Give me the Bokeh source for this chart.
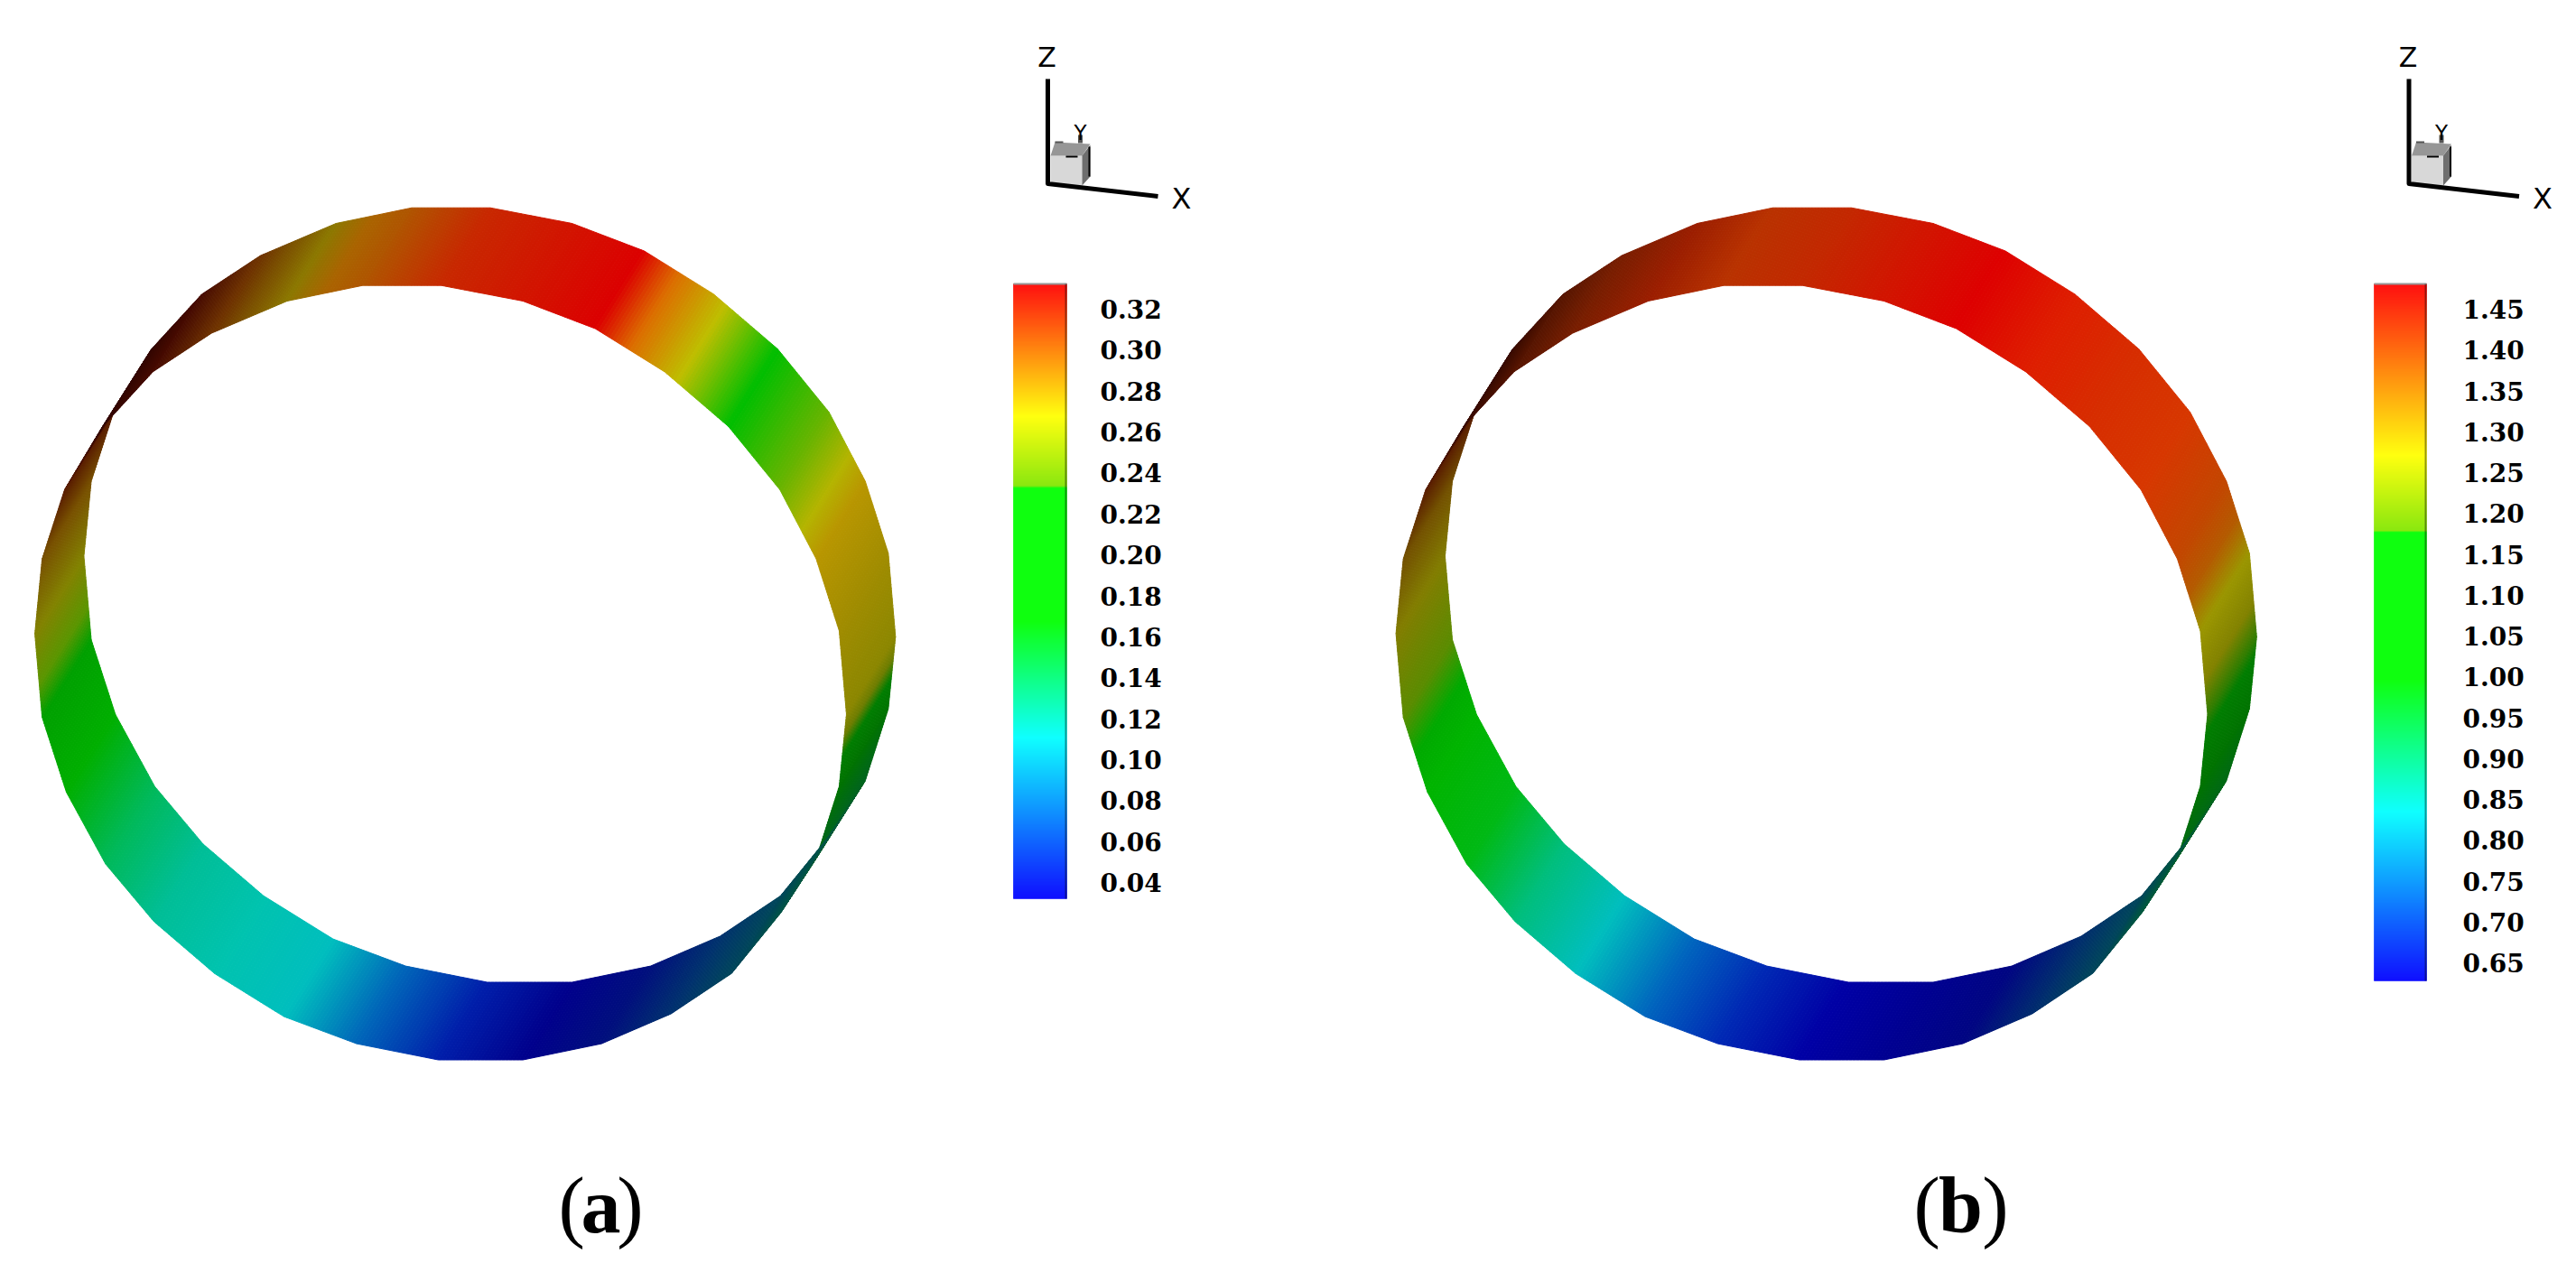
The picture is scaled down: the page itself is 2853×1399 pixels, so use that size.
import numpy as np
from bokeh.embed import file_html
from bokeh.resources import INLINE
from bokeh.plotting import figure
from bokeh.models import Range1d, ColumnDataSource
from bokeh.core.properties import value

# ---- data ----------------------------------------------------------------
# one rim of the projected ribbon (32 facets), clockwise from the top
rim_x = [455.5, 542.5, 633, 713, 790, 860.7, 917.6, 957.8, 983.3, 991.3, 983.3, 957.8, 918.3, 864, 797, 720,
         633, 539.2, 448.8, 368.4, 291.4, 224.4, 170.8, 127.3, 100.5, 92.4, 100.5, 125.3, 167.4, 223, 288, 371.7]
rim_y = [229.7, 229.7, 247, 277.5, 325.4, 386, 456, 532.6, 612.4, 704.8, 784.5, 864.3, 924.9, 991.8, 1036.5, 1069.6,
         1087.5, 1087.5, 1069.6, 1039.6, 991.8, 934.4, 870.6, 790.9, 708, 615.5, 532.6, 456.1, 386, 325.4, 282.6, 247]

# shaded contour colour along the ribbon: station number -> colour
ring_a_station = [0, 1, 2, 3, 3.5, 4.2, 5, 6, 6.6, 7, 8, 9, 9.3, 9.6, 10, 11, 12, 13, 14, 15, 16, 17, 18, 19, 20, 21, 22, 23,
                  24, 24.4, 25, 26, 27, 28, 29, 30, 31, 31.5, 32]
ring_a_colour = ["#af5500", "#c82800", "#d21400", "#dc0000", "#dc6e00", "#bebe00", "#00be00", "#69b400", "#b4b400", "#b99600",
                 "#a08c00", "#8c8700", "#6e7d00", "#007d00", "#007300", "#00641e", "#005546", "#00465a", "#00326e", "#000f7d",
                 "#00008c", "#001eaa", "#0064b9", "#00bebe", "#00c3af", "#00be96", "#00b95a", "#00af00",
                 "#00a000", "#5a9600", "#828200", "#785000", "#5a1e00", "#320500", "#460a00", "#6e3200", "#8c7800", "#aa6400", "#af5500"]

ring_b_station = [0, 1, 2, 3, 4, 5, 6, 7, 7.5, 8, 8.6, 9, 9.3, 10, 11, 12, 13, 14, 15, 16, 17, 18, 19, 20, 21, 22, 23, 23.5, 24, 25, 26, 27, 28,
                  29, 30, 31, 32]
ring_b_colour = ["#b93200", "#c32800", "#d21400", "#de0000", "#de1e00", "#d72d00", "#d73700", "#c34600", "#b45a00", "#9b9600",
                 "#828200", "#327d00", "#007d00", "#007300", "#006914", "#005a3c", "#00465a", "#002d6e", "#000582", "#000091",
                 "#0000a5", "#0028b4", "#0064be", "#00bebe", "#00be7d", "#00b914", "#00b400", "#00aa00", "#5a8c00", "#827d00",
                 "#735000", "#5a1e00", "#370a00", "#551400", "#781e00", "#9b1e00", "#b93200"]

# colour legends
ticks_a = ["0.32", "0.30", "0.28", "0.26", "0.24", "0.22", "0.20", "0.18", "0.16", "0.14", "0.12", "0.10", "0.08", "0.06", "0.04"]
ticks_b = ["1.45", "1.40", "1.35", "1.30", "1.25", "1.20", "1.15", "1.10", "1.05", "1.00", "0.95", "0.90", "0.85", "0.80", "0.75", "0.70", "0.65"]
scale_a_value = [0.331, 0.267, 0.2335, 0.2325, 0.168, 0.112, 0.0346]
scale_b_value = [1.480, 1.270, 1.178, 1.176, 0.996, 0.834, 0.628]
scale_colour = ["#ff0000", "#ffff00", "#82e600", "#00ff00", "#00ff00", "#00ffff", "#0000ff"]

captions = ["a", "b"]

# ---- drawing -------------------------------------------------------------
CANVAS_W, CANVAS_H = 2837, 1391
p = figure(width=CANVAS_W, height=CANVAS_H, x_range=Range1d(0, CANVAS_W), y_range=Range1d(CANVAS_H, 0),
           toolbar_location=None, output_backend="svg", min_border=0, outline_line_color=None,
           background_fill_color="white", border_fill_color="white")
p.axis.visible = False
p.grid.visible = False

RIBBON = (-54.3, 86.0)
RING_B_SHIFT = 1507.5
TRIAD_B_SHIFT = 1507.5


def rgb(h):
    return [int(h[i:i + 2], 16) for i in (1, 3, 5)]


def hexa(c):
    return "#%02x%02x%02x" % tuple(int(round(v)) for v in c)


def ring(shift, stations, colours, sub=24):
    xs = np.array(rim_x + rim_x[:1], float) + shift
    ys = np.array(rim_y + rim_y[:1], float)
    idx = np.arange(33)
    fine = np.linspace(0, 32, 32 * sub + 1)
    fx, fy = np.interp(fine, idx, xs), np.interp(fine, idx, ys)
    cols = np.array([rgb(c) for c in colours], float)
    mid = (fine[:-1] + fine[1:]) / 2
    fc = np.stack([np.interp(mid, stations, cols[:, k]) for k in range(3)], axis=1)
    px, py, pc = [], [], []
    for i in range(len(mid)):
        px.append([fx[i], fx[i + 1], fx[i + 1] + RIBBON[0], fx[i] + RIBBON[0]])
        py.append([fy[i], fy[i + 1], fy[i + 1] + RIBBON[1], fy[i] + RIBBON[1]])
        pc.append(hexa(fc[i]))
    p.patches("x", "y", fill_color="c", line_color="c", line_width=1,
              source=ColumnDataSource(dict(x=px, y=py, c=pc)))


def legend(x0, x1, y_top, y_bot, label_x, label_top, label_bot, stops, ticks):
    v_top, v_bot = stops[0], stops[-1]
    n = int(y_bot - y_top)
    edges = np.linspace(v_top, v_bot, n + 1)
    to_y = lambda v: y_top + (v_top - v) / (v_top - v_bot) * (y_bot - y_top)
    mids = (edges[:-1] + edges[1:]) / 2
    cols = np.array([rgb(c) for c in scale_colour], float)
    rev = list(stops[::-1])
    c = [hexa([np.interp(m, rev, cols[::-1, k]) for k in range(3)]) for m in mids]
    p.quad(left=x0, right=x1, top=to_y(edges[:-1]), bottom=to_y(edges[1:]), fill_color=c, line_color=c, line_width=0.5)
    p.line([x0, x1], [y_top, y_top], line_color="#969696", line_width=2)
    p.line([x1 - 1, x1 - 1], [y_top, y_bot], line_color="black", line_alpha=0.4, line_width=2)
    ly = np.linspace(label_top, label_bot, len(ticks))
    p.text(x=[label_x] * len(ticks), y=ly, text=ticks, text_font=value("DejaVu Serif"), text_font_style="bold",
           text_font_size=value("28px"), text_align="left", text_baseline="middle", text_color="black")


def triad(s):
    p.patch([1163 + s, 1198 + s, 1198 + s, 1163 + s], [172, 172, 205, 205], fill_color="#d8d8d8", line_color=None)
    p.patch([1163 + s, 1168 + s, 1207 + s, 1198 + s], [172, 157, 159, 172], fill_color="#969696", line_color=None)
    p.patch([1198 + s, 1207 + s, 1207 + s, 1198 + s], [172, 160, 195, 205], fill_color="#6e6e6e", line_color=None)
    p.line([1196 + s, 1196 + s], [149, 158], line_color="#555555", line_width=5)
    p.line([1180 + s, 1193 + s], [173, 173], line_color="black", line_width=2)
    p.line([1168 + s, 1177 + s], [157, 157], line_color="#555555", line_width=2)
    p.line([1206 + s, 1206 + s], [162, 195], line_color="black", line_width=2)
    p.line([1160 + s, 1160 + s, 1282 + s], [87, 203, 217], line_color="black", line_width=5, line_join="round")
    for t, x, y, size in (("Z", 1159, 63, "30px"), ("Y", 1196, 146, "23px"), ("X", 1308, 219, "32px")):
        p.text(x=[x + s], y=[y], text=[t], text_font=value("DejaVu Sans"), text_font_size=value(size),
               text_align="center", text_baseline="middle", text_color="black")


def caption(open_x, letter_x, close_x, mid_y, letter):
    size = value("88px")
    for t, x, style, align in (("(", open_x, "normal", "left"), (letter, letter_x, "bold", "center"),
                               (")", close_x, "normal", "right")):
        p.text(x=[x], y=[mid_y], text=[t], text_font=value("Liberation Serif"), text_font_style=style,
               text_font_size=size, text_align=align, text_baseline="middle", text_color="black")


ring(0, ring_a_station, ring_a_colour)
ring(RING_B_SHIFT, ring_b_station, ring_b_colour)
legend(1122, 1181, 314, 995, 1218, 342, 977, scale_a_value, ticks_a)
legend(2629, 2687, 314, 1086, 2727, 342, 1066, scale_b_value, ticks_b)
triad(0)
triad(TRIAD_B_SHIFT)
caption(618, 665, 712, 1335, captions[0])
caption(2119, 2171, 2224, 1335, captions[1])

open("out.html", "w").write(file_html(p, INLINE))
